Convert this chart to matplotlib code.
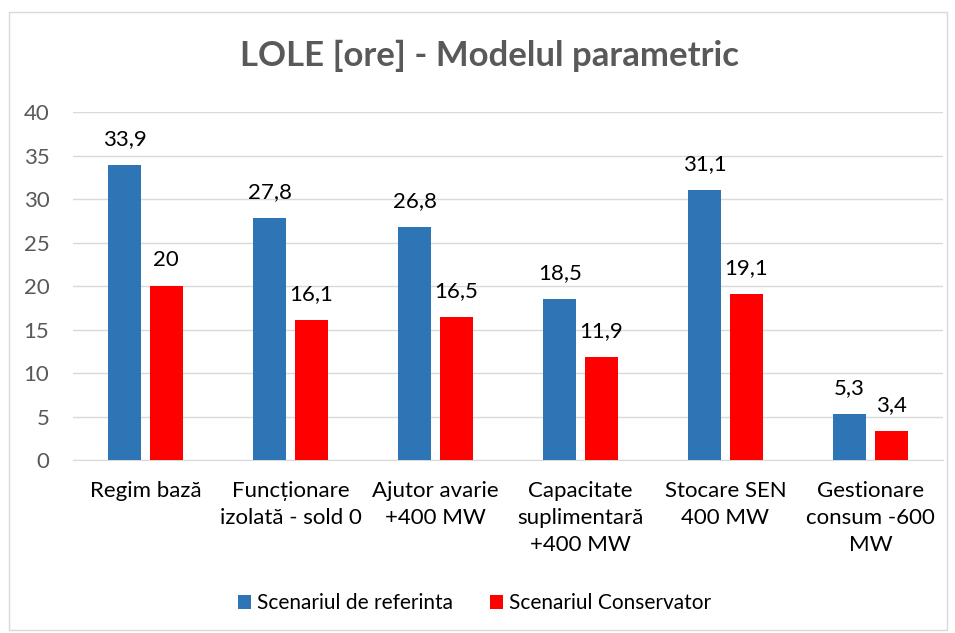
import matplotlib.pyplot as plt
import numpy as np
from matplotlib.patches import Rectangle

plt.rcParams['font.family'] = ['Lato', 'DejaVu Sans']

categories = ["Regim bază", "Funcționare\nizolată - sold 0", "Ajutor avarie\n+400 MW",
              "Capacitate\nsuplimentară\n+400 MW", "Stocare SEN\n400 MW", "Gestionare\nconsum -600\nMW"]
referinta = [33.9, 27.8, 26.8, 18.5, 31.1, 5.3]
conservator = [20, 16.1, 16.5, 11.9, 19.1, 3.4]
series_names = ["Scenariul de referinta", "Scenariul Conservator"]

blue = "#2E75B6"
red = "#FF0000"
grey = "#595959"

fig = plt.figure(figsize=(9.55, 6.33), dpi=100)
ax = fig.add_axes([0.0764, 0.273, 0.911, 0.55])

x = np.arange(len(categories))
w = 0.228
off = 0.143
b1 = ax.bar(x - off, referinta, w, color=blue, label=series_names[0], zorder=3)
b2 = ax.bar(x + off, conservator, w, color=red, label=series_names[1], zorder=3)

def fmt(v):
    return ("%g" % v).replace(".", ",")

for bars, vals in [(b1, referinta), (b2, conservator)]:
    for rect, v in zip(bars, vals):
        ax.text(rect.get_x() + rect.get_width() / 2, v + 1.8, fmt(v),
                ha="center", va="bottom", fontsize=16, color="black")

ax.set_ylim(0, 40)
ax.set_xlim(-0.5, len(categories) - 0.5)
ax.set_yticks(range(0, 45, 5))
ax.yaxis.grid(True, color="#D9D9D9", linewidth=1, zorder=0)
ax.set_xticks(x)
ax.set_xticklabels(categories, fontsize=16, color="black", va="top", linespacing=1.45)
ax.tick_params(axis="y", labelsize=16, labelcolor=grey, length=0, pad=17)
ax.tick_params(axis="x", length=0, pad=15)
for s in ["top", "right", "left"]:
    ax.spines[s].set_visible(False)
ax.spines["bottom"].set_color("#D9D9D9")

fig.text(0.513, 0.912, "LOLE [ore] - Modelul parametric", ha="center", va="center",
         fontsize=25, fontweight="bold", color=grey)

fig.legend(handles=[b1, b2], loc="center", bbox_to_anchor=(0.497, 0.047), ncol=2,
           frameon=False, fontsize=15, handlelength=0.6, handleheight=0.6,
           columnspacing=1.8, handletextpad=0.3)

fig.patches.append(Rectangle((0.0094, 0.005), 0.982, 0.976, transform=fig.transFigure,
                             fill=False, edgecolor="#D9D9D9", linewidth=1))

plt.savefig("out.png", dpi=100)
